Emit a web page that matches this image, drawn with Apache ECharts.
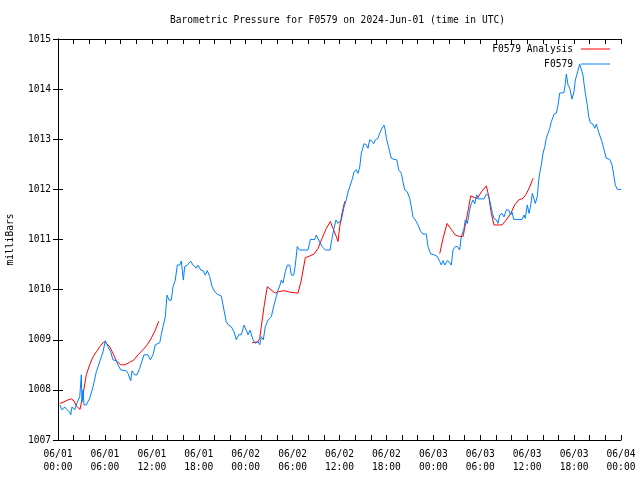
<!DOCTYPE html>
<html>
<head>
<meta charset="utf-8">
<script src="https://cdn.jsdelivr.net/npm/echarts@6/dist/echarts.min.js"></script>
<style>html,body{margin:0;padding:0;background:#fff}#c{width:640px;height:480px}</style>
</head>
<body>
<div id="c"></div>
<script>
// hours since 2024-06-01 00:00 UTC
var obsHours = [0.22,0.51,0.86,1.06,1.50,1.62,1.79,2.14,2.47,2.78,2.98,3.07,3.20,3.33,3.62,4.05,4.48,4.90,5.33,5.76,6.05,6.39,6.74,7.03,7.46,7.67,8.02,8.74,8.95,9.30,9.46,9.81,10.10,10.45,11.00,11.51,11.80,12.15,12.44,13.01,13.21,13.43,13.72,13.94,14.20,14.49,14.71,15.00,15.26,15.56,15.77,16.03,16.20,16.54,16.97,17.27,17.69,17.90,18.25,18.54,18.84,19.09,19.40,19.70,20.04,20.37,20.89,21.23,21.52,21.83,22.16,22.51,22.80,23.11,23.44,23.79,24.08,24.30,24.56,24.94,25.23,25.58,25.80,26.00,26.26,26.51,26.86,27.28,27.62,27.92,28.14,28.39,28.56,28.78,29.07,29.33,29.63,29.84,30.14,30.35,30.60,30.91,31.33,31.97,32.27,32.83,33.03,33.34,33.76,34.19,34.79,35.04,35.30,35.55,35.72,35.81,36.23,36.58,36.87,37.09,37.31,37.60,37.86,38.15,38.37,38.59,38.79,39.14,39.43,39.65,39.86,40.16,40.37,40.58,40.93,41.14,41.44,41.69,41.86,41.99,42.21,42.42,42.63,42.97,43.32,43.57,43.91,44.12,44.34,44.67,44.98,45.18,45.40,45.70,46.04,46.39,46.68,47.10,47.32,47.67,48.18,48.51,48.82,49.02,49.24,49.46,49.79,50.10,50.30,50.52,50.81,51.07,51.37,51.58,51.92,52.09,52.35,52.65,52.86,53.08,53.29,53.55,53.72,54.48,54.78,55.09,55.34,55.55,55.76,56.06,56.27,56.49,56.78,57.04,57.33,57.64,57.90,58.06,58.28,59.34,59.60,59.76,60.02,60.24,60.46,60.66,60.88,61.04,61.30,61.48,61.60,61.81,62.03,62.25,62.45,62.67,62.89,63.09,63.44,63.73,63.95,64.16,64.71,64.88,65.01,65.23,65.44,65.74,65.99,66.16,66.34,66.50,66.72,66.93,67.14,67.27,67.44,67.69,67.87,68.08,68.42,68.64,68.84,69.06,69.28,69.57,69.83,70.12,70.56,70.85,71.11,71.27,71.53,72.00];
var obsValues = [1007.70,1007.60,1007.66,1007.62,1007.56,1007.50,1007.66,1007.60,1007.76,1007.86,1008.30,1007.76,1008.00,1007.70,1007.70,1007.83,1008.06,1008.36,1008.56,1008.76,1008.98,1008.86,1008.76,1008.60,1008.58,1008.50,1008.40,1008.38,1008.33,1008.18,1008.38,1008.30,1008.30,1008.43,1008.70,1008.70,1008.60,1008.70,1008.90,1008.94,1009.10,1009.26,1009.46,1009.89,1009.79,1009.79,1010.06,1010.19,1010.49,1010.49,1010.57,1010.19,1010.46,1010.49,1010.57,1010.49,1010.43,1010.49,1010.39,1010.38,1010.29,1010.38,1010.26,1010.06,1009.96,1009.91,1009.87,1009.59,1009.36,1009.29,1009.26,1009.16,1009.00,1009.10,1009.10,1009.29,1009.19,1009.10,1009.19,1009.00,1008.93,1008.96,1008.90,1009.06,1009.00,1009.26,1009.39,1009.46,1009.69,1009.86,1009.99,1010.09,1010.19,1010.13,1010.36,1010.49,1010.49,1010.29,1010.29,1010.49,1010.86,1010.79,1010.79,1010.79,1011.00,1011.00,1011.09,1010.99,1010.86,1010.79,1010.79,1011.02,1011.22,1011.39,1011.36,1011.32,1011.39,1011.65,1011.79,1011.95,1012.05,1012.19,1012.35,1012.39,1012.32,1012.45,1012.72,1012.91,1012.89,1012.82,1012.99,1012.96,1012.91,1012.99,1013.02,1013.12,1013.22,1013.28,1013.18,1013.02,1012.89,1012.75,1012.62,1012.60,1012.59,1012.39,1012.32,1012.15,1011.99,1011.95,1011.82,1011.65,1011.45,1011.39,1011.29,1011.16,1011.11,1011.11,1010.86,1010.71,1010.69,1010.66,1010.56,1010.49,1010.58,1010.49,1010.58,1010.54,1010.49,1010.79,1010.86,1010.86,1010.79,1011.06,1011.22,1011.39,1011.32,1011.59,1011.72,1011.79,1011.71,1011.89,1011.81,1011.81,1011.91,1011.86,1011.69,1011.52,1011.42,1011.39,1011.32,1011.49,1011.52,1011.45,1011.59,1011.59,1011.49,1011.55,1011.40,1011.40,1011.49,1011.42,1011.69,1011.52,1011.69,1011.92,1011.89,1011.72,1011.86,1012.19,1012.32,1012.49,1012.72,1012.85,1013.02,1013.12,1013.22,1013.35,1013.50,1013.52,1013.68,1013.92,1013.93,1014.11,1014.30,1014.08,1014.02,1013.80,1013.95,1014.18,1014.28,1014.25,1014.50,1014.48,1014.28,1014.11,1013.92,1013.68,1013.45,1013.33,1013.30,1013.22,1013.30,1013.28,1013.08,1012.95,1012.79,1012.62,1012.60,1012.49,1012.25,1012.09,1012.00,1012.00];

// analysis: null marks a gap
var anaHours = [0.22,0.77,1.28,1.70,2.05,2.34,2.81,3.20,3.62,4.05,4.48,4.90,5.33,5.88,6.18,6.61,7.03,7.46,8.02,8.53,9.17,9.72,10.23,10.87,11.42,11.93,12.44,12.88,
  18.0,
  24.81,25.58,25.80,26.00,26.35,26.77,27.28,27.79,28.23,28.90,29.63,30.69,31.12,31.63,32.19,32.74,33.25,33.76,34.31,34.83,35.17,35.59,35.81,36.03,36.32,36.67,
  42.0,
  48.82,49.24,49.75,50.30,50.81,51.37,51.80,52.22,52.53,52.78,53.21,53.63,54.14,54.78,55.09,55.42,55.76,56.78,57.33,57.90,58.41,58.92,59.47,59.89,60.33,60.75];
var anaValues = [1007.73,1007.76,1007.80,1007.82,1007.78,1007.68,1007.61,1007.90,1008.30,1008.50,1008.66,1008.76,1008.86,1008.96,1008.93,1008.86,1008.73,1008.58,1008.50,1008.50,1008.55,1008.60,1008.70,1008.80,1008.90,1009.03,1009.19,1009.37,
  null,
  1008.94,1008.96,1009.03,1009.26,1009.66,1010.06,1009.99,1009.93,1009.96,1009.98,1009.95,1009.93,1010.19,1010.64,1010.67,1010.71,1010.82,1011.02,1011.22,1011.36,1011.22,1011.06,1010.96,1011.26,1011.52,1011.76,
  null,
  1010.72,1011.02,1011.32,1011.20,1011.09,1011.06,1011.06,1011.39,1011.65,1011.87,1011.84,1011.82,1011.95,1012.07,1011.86,1011.52,1011.29,1011.29,1011.39,1011.52,1011.69,1011.79,1011.82,1011.91,1012.05,1012.22];

var seriesNames = ['F0579 Analysis', 'F0579'];
var titleText = 'Barometric Pressure for F0579 on 2024-Jun-01 (time in UTC)';
var yAxisName = 'milliBars';

function pairs(xs, ys) { return xs.map(function (x, i) { return [x, ys[i]]; }); }
function pad(n) { return (n < 10 ? '0' : '') + n; }

var FONT = 'DejaVu Sans Mono';
var FS = 9.6;
var chart = echarts.init(document.getElementById('c'), null, { renderer: 'canvas' });

var xCommon = {
  type: 'value', min: 0, max: 72, interval: 6,
  axisLine: { show: true, lineStyle: { color: '#000', width: 1 } },
  axisTick: { show: true, inside: true, length: 5, lineStyle: { color: '#000' } },
  minorTick: { show: true, splitNumber: 3, length: 5, lineStyle: { color: '#000' } },
  splitLine: { show: false },
  minorSplitLine: { show: false }
};
var yCommon = {
  type: 'value', min: 1007, max: 1015, interval: 1,
  axisLine: { show: true, lineStyle: { color: '#000', width: 1 } },
  axisTick: { show: true, inside: true, length: 5, lineStyle: { color: '#000' } },
  splitLine: { show: false }
};

function legendItem(name, top) {
  return {
    data: [name], right: 30, top: top, align: 'right', padding: 0,
    icon: 'rect', itemWidth: 29, itemHeight: 1, itemGap: 0,
    textStyle: { fontFamily: FONT, fontSize: FS, color: '#000', padding: [0, 3, 0, 0] }
  };
}

chart.setOption({
  animation: false,
  backgroundColor: '#fff',
  title: {
    text: titleText, left: 165, top: 10,
    textStyle: { fontFamily: FONT, fontSize: FS, fontWeight: 'normal', color: '#000' }
  },
  grid: { left: 58, right: 19, top: 39, bottom: 40, containLabel: false, outerBoundsMode: 'none' },
  legend: [legendItem(seriesNames[0], 44), legendItem(seriesNames[1], 59)],
  xAxis: [
    Object.assign({}, xCommon, {
      position: 'bottom',
      axisLabel: {
        show: true, margin: 8, fontFamily: FONT, fontSize: FS, color: '#000', lineHeight: 13,
        formatter: function (v) {
          var d = 1 + Math.floor(v / 24), h = v % 24;
          return '06/' + pad(d) + '\n' + pad(h) + ':00';
        }
      }
    }),
    Object.assign({}, xCommon, { position: 'top', axisLabel: { show: false } })
  ],
  yAxis: [
    Object.assign({}, yCommon, {
      position: 'left',
      name: yAxisName, nameLocation: 'middle', nameGap: 43, nameRotate: 90,
      nameTextStyle: { fontFamily: FONT, fontSize: FS, color: '#000' },
      axisLabel: { show: true, margin: 7, fontFamily: FONT, fontSize: FS, color: '#000',
        formatter: function (v) { return String(v); } }
    }),
    Object.assign({}, yCommon, { position: 'right', axisLabel: { show: false } })
  ],
  series: [
    { name: seriesNames[0], type: 'line', xAxisIndex: 0, yAxisIndex: 0,
      data: pairs(anaHours, anaValues), connectNulls: false, symbol: 'none',
      lineStyle: { color: '#ff0000', width: 1 }, itemStyle: { color: '#ff0000' } },
    { name: seriesNames[1], type: 'line', xAxisIndex: 0, yAxisIndex: 0,
      data: pairs(obsHours, obsValues), symbol: 'none',
      lineStyle: { color: '#0080ff', width: 1 }, itemStyle: { color: '#0080ff' } }
  ]
});
</script>
</body>
</html>
